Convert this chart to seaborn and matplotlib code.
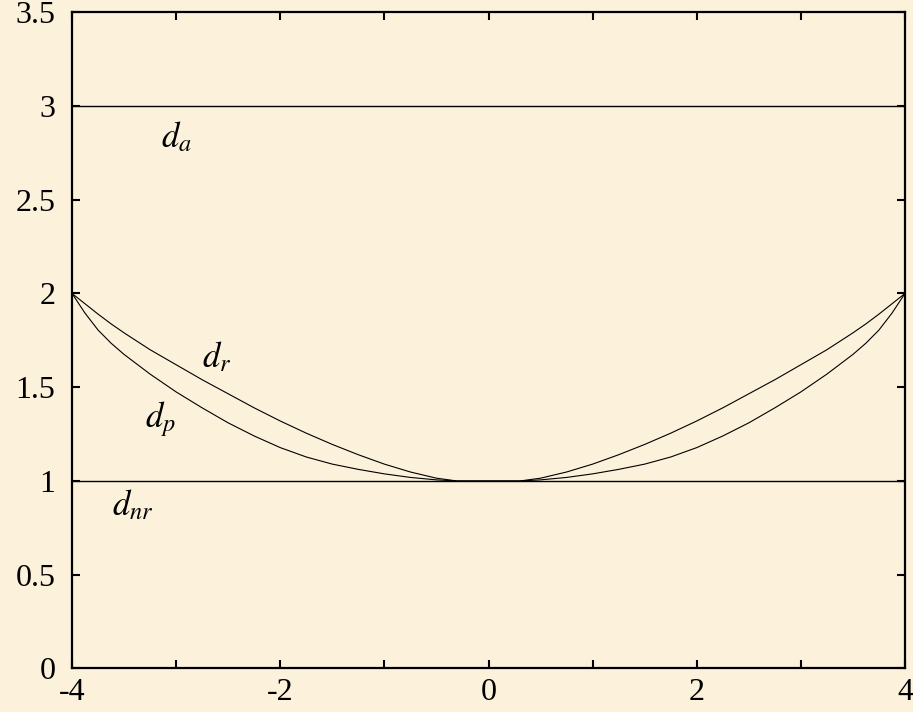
import matplotlib
matplotlib.use("Agg")
import matplotlib.pyplot as plt
import pandas as pd
import seaborn as sns

# Sample positions along the horizontal axis
x_vals = [-4.0, -3.875, -3.75, -3.625, -3.5, -3.25, -3.0, -2.75, -2.5, -2.25, -2.0,
          -1.75, -1.5, -1.25, -1.0, -0.75, -0.5, -0.3,
          0.3, 0.5, 0.75, 1.0, 1.25, 1.5, 1.75, 2.0, 2.25, 2.5, 2.75,
          3.0, 3.25, 3.5, 3.625, 3.75, 3.875, 4.0]

# d_r curve
d_r = [2.000, 1.945, 1.890, 1.838, 1.790, 1.700, 1.620, 1.540, 1.465, 1.390, 1.320,
       1.255, 1.195, 1.140, 1.090, 1.048, 1.015, 1.000,
       1.000, 1.015, 1.048, 1.090, 1.140, 1.195, 1.255, 1.320, 1.390, 1.465,
       1.540, 1.620, 1.700, 1.790, 1.838, 1.890, 1.945, 2.000]

# d_p curve
d_p = [2.000, 1.895, 1.805, 1.735, 1.675, 1.570, 1.475, 1.390, 1.310, 1.240, 1.178,
       1.128, 1.090, 1.062, 1.038, 1.019, 1.006, 1.000,
       1.000, 1.006, 1.019, 1.038, 1.062, 1.090, 1.128, 1.178, 1.240, 1.310,
       1.390, 1.475, 1.570, 1.675, 1.735, 1.805, 1.895, 2.000]

# Constant levels
flat_x = [-4.0, 4.0]
d_a = [3.0, 3.0]
d_nr = [1.0, 1.0]

x_ticks = [-4, -3, -2, -1, 0, 1, 2, 3, 4]
x_tick_labels = ["-4", "", "-2", "", "0", "", "2", "", "4"]
y_ticks = [0, 0.5, 1, 1.5, 2, 2.5, 3, 3.5]
y_tick_labels = ["0", "0.5", "1", "1.5", "2", "2.5", "3", "3.5"]

curves = pd.DataFrame({"x": x_vals, "d_r": d_r, "d_p": d_p})
levels = pd.DataFrame({"x": flat_x, "d_a": d_a, "d_nr": d_nr})

sns.set_theme(style="ticks")
plt.rcParams["font.family"] = ["Liberation Serif", "DejaVu Serif"]
plt.rcParams["mathtext.fontset"] = "stix"

bg = "#FCF2DB"
fig = plt.figure(figsize=(9.13, 7.12), dpi=100, facecolor=bg)
ax = fig.add_axes([0.0789, 0.0611, 0.9123, 0.9217])
ax.set_facecolor(bg)

sns.lineplot(data=levels, x="x", y="d_a", ax=ax, color="black", lw=1.0, estimator=None)
sns.lineplot(data=levels, x="x", y="d_nr", ax=ax, color="black", lw=1.0, estimator=None)
sns.lineplot(data=curves, x="x", y="d_r", ax=ax, color="black", lw=0.8, estimator=None)
sns.lineplot(data=curves, x="x", y="d_p", ax=ax, color="black", lw=0.8, estimator=None)

ax.set_xlim(-4, 4)
ax.set_ylim(0, 3.5)
ax.set_xticks(x_ticks)
ax.set_xticklabels(x_tick_labels)
ax.set_yticks(y_ticks)
ax.set_yticklabels(y_tick_labels)
ax.set_xlabel("")
ax.set_ylabel("")

ax.tick_params(direction="in", length=6, width=1.5, labelsize=23, color="black",
               labelcolor="black", top=True, right=True)
ax.tick_params(axis="y", pad=12)
ax.tick_params(axis="x", pad=7)
for side in ax.spines.values():
    side.set_visible(True)
    side.set_linewidth(1.6)
    side.set_color("black")

label_kw = dict(fontsize=25, ha="left", va="baseline", color="black")
ax.text(-3.146, 2.781, r"$d_a$", **label_kw)
ax.text(-2.752, 1.608, r"$d_r$", **label_kw)
ax.text(-3.30, 1.288, r"$d_p$", **label_kw)
ax.text(-3.617, 0.819, r"$d_{nr}$", **label_kw)

fig.savefig("out.png", dpi=100, facecolor=bg)
